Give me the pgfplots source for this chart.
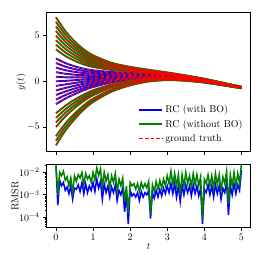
\documentclass[border=0pt]{standalone}
\usepackage{pgfplots}
\pgfplotsset{compat=1.18}
\usepackage{pgfplotstable}

\pgfplotstableread{
t m7 m65 m6 m5 m45 m4 m35 n25 n2 n15 n1 n05 z p05 p1 p15 p2 p25 p35 p4 p45 p5 p55 p6 p65 p7
0 -7 -6.5 -6 -5 -4.5 -4 -3.5 -2.5 -2 -1.5 -1 -0.5 0 0.5 1 1.5 2 2.5 3.5 4 4.5 5 5.5 6 6.5 7
0.25 -5.41 -5.02 -4.63 -3.85 -3.46 -3.07 -2.68 -1.90 -1.51 -1.12 -0.73 -0.34 0.05 0.44 0.83 1.22 1.61 2.0 2.78 3.17 3.56 3.95 4.34 4.73 5.12 5.51
0.5 -4.15 -3.845 -3.54 -2.93 -2.625 -2.32 -2.015 -1.405 -1.10 -0.795 -0.49 -0.185 0.12 0.425 0.73 1.035 1.34 1.645 2.255 2.56 2.865 3.17 3.475 3.78 4.085 4.39
0.75 -3.09 -2.855 -2.62 -2.15 -1.915 -1.68 -1.445 -0.975 -0.74 -0.505 -0.27 -0.035 0.20 0.435 0.67 0.905 1.14 1.375 1.845 2.08 2.315 2.55 2.785 3.02 3.255 3.49
1 -2.265 -2.083 -1.90 -1.535 -1.353 -1.17 -0.988 -0.623 -0.44 -0.258 -0.075 0.107 0.29 0.473 0.655 0.838 1.02 1.203 1.568 1.75 1.933 2.115 2.298 2.48 2.663 2.845
1.5 -1.125 -1.013 -0.90 -0.675 -0.563 -0.45 -0.338 -0.113 0 0.112 0.225 0.337 0.45 0.563 0.675 0.788 0.90 1.013 1.238 1.35 1.463 1.575 1.688 1.80 1.913 2.025
2 -0.445 -0.373 -0.30 -0.155 -0.083 -0.01 0.062 0.207 0.28 0.352 0.425 0.497 0.57 0.643 0.715 0.788 0.86 0.933 1.078 1.15 1.223 1.295 1.368 1.44 1.513 1.585
2.5 -0.024 0.022 0.068 0.16 0.206 0.252 0.298 0.39 0.436 0.482 0.528 0.574 0.62 0.666 0.712 0.758 0.804 0.85 0.942 0.988 1.034 1.08 1.126 1.172 1.218 1.264
3 0.13 0.16 0.19 0.25 0.28 0.31 0.34 0.40 0.43 0.46 0.49 0.52 0.55 0.58 0.61 0.64 0.67 0.70 0.76 0.79 0.82 0.85 0.88 0.91 0.94 0.97
3.5 0.056 0.077 0.098 0.14 0.161 0.182 0.203 0.245 0.266 0.287 0.308 0.329 0.35 0.371 0.392 0.413 0.434 0.455 0.497 0.518 0.539 0.56 0.581 0.602 0.623 0.644
4 -0.14 -0.125 -0.11 -0.08 -0.065 -0.05 -0.035 -0.005 0.01 0.025 0.04 0.055 0.07 0.085 0.10 0.115 0.13 0.145 0.175 0.19 0.205 0.22 0.235 0.25 0.265 0.28
4.5 -0.44 -0.43 -0.42 -0.40 -0.39 -0.38 -0.37 -0.35 -0.34 -0.33 -0.32 -0.31 -0.30 -0.29 -0.28 -0.27 -0.26 -0.25 -0.23 -0.22 -0.21 -0.20 -0.19 -0.18 -0.17 -0.16
5 -0.764 -0.758 -0.752 -0.74 -0.734 -0.728 -0.722 -0.71 -0.704 -0.698 -0.692 -0.686 -0.68 -0.674 -0.668 -0.662 -0.656 -0.65 -0.638 -0.632 -0.626 -0.62 -0.614 -0.608 -0.602 -0.596
}\traj

% log10 of RMSR
\pgfplotstableread{
t G B
0.00 -1.65 -1.72
0.05 -3.0 -3.45
0.10 -2.0 -2.35
0.15 -2.15 -2.6
0.20 -1.95 -2.45
0.25 -2.35 -2.8
0.30 -2.2 -2.65
0.35 -2.6 -2.95
0.40 -2.25 -2.6
0.45 -2.9 -3.2
0.50 -2.15 -2.7
0.55 -2.4 -2.75
0.60 -2.1 -2.55
0.65 -2.25 -2.85
0.70 -2.0 -2.45
0.75 -2.55 -2.95
0.80 -2.05 -2.5
0.85 -2.3 -2.9
0.90 -2.15 -2.6
0.95 -2.45 -2.8
1.00 -2.0 -2.45
1.05 -2.35 -2.85
1.10 -1.8 -2.3
1.15 -2.15 -2.7
1.20 -1.85 -2.4
1.25 -2.65 -3.2
1.30 -2.0 -2.5
1.35 -2.4 -2.9
1.40 -2.1 -2.6
1.45 -2.7 -3.1
1.50 -2.15 -2.65
1.55 -2.45 -2.9
1.60 -2.05 -2.55
1.65 -2.85 -3.25
1.70 -2.3 -2.8
1.75 -2.6 -3.0
1.80 -2.25 -2.7
1.85 -3.3 -3.75
1.90 -2.6 -3.0
1.95 -3.8 -4.3
2.00 -2.45 -2.8
2.05 -2.6 -3.05
2.10 -2.5 -2.95
2.15 -2.75 -3.1
2.20 -2.5 -2.9
2.25 -2.85 -3.25
2.30 -2.45 -2.85
2.35 -2.7 -3.1
2.40 -2.5 -2.9
2.45 -2.7 -3.0
2.50 -2.4 -2.8
2.55 -3.9 -4.05
2.60 -2.55 -2.9
2.65 -2.85 -3.15
2.70 -2.4 -2.8
2.75 -2.75 -3.1
2.80 -2.35 -2.75
2.85 -2.7 -3.05
2.90 -2.3 -2.7
2.95 -2.6 -2.95
3.00 -2.15 -2.6
3.05 -2.5 -2.9
3.10 -1.95 -2.5
3.15 -2.55 -2.95
3.20 -2.05 -2.5
3.25 -2.6 -3.1
3.30 -2.1 -2.6
3.35 -3.0 -3.3
3.40 -2.1 -2.55
3.45 -2.6 -3.0
3.50 -2.0 -2.55
3.55 -2.5 -2.9
3.60 -2.15 -2.6
3.65 -2.65 -3.05
3.70 -2.05 -2.55
3.75 -2.55 -2.95
3.80 -2.1 -2.6
3.85 -2.6 -3.05
3.90 -2.2 -2.7
3.95 -4.1 -4.3
4.00 -2.3 -2.75
4.05 -2.5 -2.9
4.10 -2.1 -2.55
4.15 -2.6 -3.0
4.20 -2.15 -2.6
4.25 -2.7 -3.1
4.30 -2.05 -2.55
4.35 -2.55 -2.95
4.40 -2.1 -2.6
4.45 -2.8 -3.2
4.50 -2.2 -2.7
4.55 -2.5 -2.9
4.60 -1.95 -2.45
4.65 -3.4 -3.9
4.70 -2.1 -2.6
4.75 -2.6 -3.0
4.80 -2.0 -2.5
4.85 -2.6 -2.95
4.90 -2.05 -2.55
4.95 -2.5 -2.8
5.00 -1.6 -1.9
}\rmsr

\definecolor{mblue}{RGB}{0,0,255}
\definecolor{mgreen}{RGB}{0,128,0}
\definecolor{mred}{RGB}{255,0,0}

\pgfplotsset{
  every axis/.append style={
    scale only axis,
    axis line style={line width=0.8pt},
    tick align=outside,
    tick pos=left,
    major tick length=3.5pt,
    minor tick length=2pt,
    every tick/.style={black, line width=0.8pt},
    minor tick style={line width=0.6pt},
    tick label style={font=\fontsize{10}{12}\selectfont},
    label style={font=\fontsize{10}{12}\selectfont},
    xmin=-0.25, xmax=5.25,
    xtick={0,1,2,3,4,5},
  },
}

\begin{document}
\begin{tikzpicture}
\useasboundingbox (0,0) rectangle (264bp,264bp);
\begin{axis}[
  at={(46.7bp,112.3bp)}, anchor=south west,
  width=204bp, height=139.4bp,
  ymin=-7.7, ymax=7.55,
  ytick={-5,0,5},
  xticklabels={},
  ylabel={$y(t)$},
  ylabel style={at={(axis description cs:-0.125,0.5)}, anchor=center},
  legend style={at={(0.985,0.035)}, anchor=south east, draw=none, fill=none,
    font=\fontsize{10}{12}\selectfont, row sep=1.5pt},
  legend cell align=left,
  legend image code/.code={\draw[#1] (0pt,0pt) -- (23pt,0pt);},
]
\pgfplotsinvokeforeach{n25,n2,n15,n1,n05,z,p05,p1,p15,p2,p25}{
  \addplot[mblue, line width=1.9pt, smooth, forget plot] table[x=t,y=#1]{\traj};
}
\pgfplotsinvokeforeach{m7,m65,m6,m5,m45,m4,m35,p35,p4,p45,p5,p55,p6,p65,p7}{
  \addplot[mgreen, line width=1.9pt, smooth, forget plot] table[x=t,y=#1]{\traj};
}
\pgfplotsinvokeforeach{m7,m65,m6,m5,m45,m4,m35,n25,n2,n15,n1,n05,z,p05,p1,p15,p2,p25,p35,p4,p45,p5,p55,p6,p65,p7}{
  \addplot[mred, line width=0.9pt, dash pattern=on 3.6pt off 2pt, smooth, forget plot] table[x=t,y=#1]{\traj};
}
\addlegendimage{mblue, line width=2pt}
\addlegendentry{RC (with BO)}
\addlegendimage{mgreen, line width=2pt}
\addlegendentry{RC (without BO)}
\addlegendimage{mred, line width=1pt, dash pattern=on 3.6pt off 2pt}
\addlegendentry{ground truth}
\end{axis}

\begin{axis}[
  at={(46.7bp,36.7bp)}, anchor=south west,
  width=204bp, height=62.6bp,
  ymin=-4.44, ymax=-1.66,
  ytick={-4,-3,-2},
  yticklabels={$10^{-4}$,$10^{-3}$,$10^{-2}$},
  minor ytick={-4.398,-4.301,-4.222,-4.155,-4.097,-4.046,-3.699,-3.523,-3.398,-3.301,-3.222,-3.155,-3.097,-3.046,-2.699,-2.523,-2.398,-2.301,-2.222,-2.155,-2.097,-2.046,-1.699},
  xlabel={$t$},
  xlabel style={at={(axis description cs:0.5,-0.31)}, anchor=center},
  ylabel={RMSR},
  ylabel style={at={(axis description cs:-0.155,0.5)}, anchor=center},
]
\addplot[mblue, line width=1.5pt] table[x=t,y=B]{\rmsr};
\addplot[mgreen, line width=1.5pt] table[x=t,y=G]{\rmsr};
\end{axis}
\end{tikzpicture}
\end{document}
